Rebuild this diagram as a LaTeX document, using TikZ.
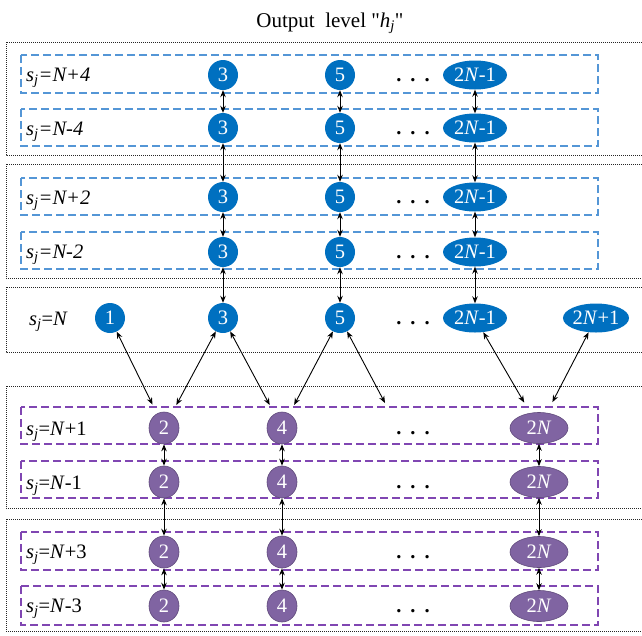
\documentclass[tikz,border=0pt]{standalone}
\usepackage{fontspec}
\setmainfont{Liberation Serif}
\usetikzlibrary{arrows.meta,shapes.geometric}
\definecolor{nblue}{RGB}{0,112,192}
\definecolor{dblue}{RGB}{84,150,214}
\definecolor{npurple}{RGB}{128,100,162}
\definecolor{lpurple}{RGB}{96,74,123}
\definecolor{dpurple}{RGB}{128,70,178}
\newcommand{\fsz}{\fontsize{20.5}{24}\selectfont}
\newcommand{\lsz}{\fontsize{20.5}{24}\selectfont}
\newcommand{\tsz}{\fontsize{21}{24}\selectfont}
\newcommand{\sj}{\textit{s}\textsubscript{\textit{j}}}
\begin{document}
\begin{tikzpicture}[x=1pt,y=-1pt,
  outerbox/.style={draw=black!85, dash pattern=on 1pt off 1pt, line width=0.7pt},
  bluebox/.style={draw=dblue, dash pattern=on 8pt off 4pt, line width=1.2pt},
  purplebox/.style={draw=dpurple, dash pattern=on 8pt off 4pt, line width=1.2pt},
  bsmall/.style={ellipse, fill=nblue, text=white, inner sep=0pt, minimum width=30pt, minimum height=30pt, font=\fsz},
  bbig/.style={ellipse, fill=nblue, text=white, inner sep=0pt, minimum width=64pt, minimum height=29pt, font=\fsz},
  psmall/.style={ellipse, fill=npurple, draw=lpurple, line width=0.6pt, text=white, inner sep=0pt, minimum width=30pt, minimum height=32pt, font=\fsz},
  pbig/.style={ellipse, fill=npurple, draw=lpurple, line width=0.6pt, text=white, inner sep=0pt, minimum width=58pt, minimum height=31pt, font=\fsz},
  lab/.style={anchor=base west, inner sep=0pt, font=\lsz},
  dotsnode/.style={inner sep=0pt, font=\fsz\bfseries},
  arr/.style={{Stealth[length=7pt,width=5.5pt]}-{Stealth[length=7pt,width=5.5pt]}, line width=0.9pt},
  darr/.style={arr, shorten >=10pt}
]
\useasboundingbox (0,0) rectangle (642,635);
% title
\node[inner sep=0pt, anchor=base, font=\tsz] (title) at (330,27) {Output\ \ level \textquotedbl\textit{h}\textsubscript{\textit{j}}\textquotedbl};
% outer dotted boxes
\draw[outerbox] (650,42) -- (6,42) -- (6,155) -- (650,155);
\draw[outerbox] (650,164) -- (6,164) -- (6,278) -- (650,278);
\draw[outerbox] (650,287) -- (6,287) -- (6,352) -- (650,352);
\draw[outerbox] (650,386) -- (6,386) -- (6,508) -- (650,508);
\draw[outerbox] (650,519) -- (6,519) -- (6,631) -- (650,631);
% dashed row boxes
\draw[bluebox] (21,55) rectangle (598,93);
\draw[bluebox] (21,109) rectangle (598,146);
\draw[bluebox] (21,178) rectangle (598,215);
\draw[bluebox] (21,232) rectangle (598,269);
\draw[purplebox] (21,407) rectangle (598,444);
\draw[purplebox] (21,461) rectangle (598,498);
\draw[purplebox] (21,532) rectangle (598,570);
\draw[purplebox] (21,586) rectangle (598,625);
% labels
\node[lab] (l1) at (26,81) {\itshape\sj=N+4};
\node[lab] (l2) at (26,135) {\itshape\sj=N-4};
\node[lab] (l3) at (26,204) {\itshape\sj=N+2};
\node[lab] (l4) at (26,258) {\itshape\sj=N-2};
\node[lab] (l5) at (29,325) {\sj=\textit{N}};
\node[lab] (l6) at (26,435) {\sj=\textit{N}+1};
\node[lab] (l7) at (26,489) {\sj=\textit{N}-1};
\node[lab] (l8) at (26,558) {\sj=\textit{N}+3};
\node[lab] (l9) at (26,612) {\sj=\textit{N}-3};
% blue rows
\foreach \r/\y in {1/75,2/128,3/197,4/252,5/318}{
  \node[bsmall] (r\r a) at (223,\y) {3};
  \node[bsmall] (r\r b) at (340,\y) {5};
  \node[dotsnode] (r\r d) at (413,\y+5) {.\kern9pt.\kern9pt.};
  \node[bbig] (r\r c) at (475,\y) {2\textit{N}-1};
}
\node[bsmall] (r5z) at (110,318) {1};
\node[bbig] (r5e) at (596,318) {2\textit{N}+1};
% purple rows
\foreach \r/\y in {1/428,2/482,3/552,4/606}{
  \node[psmall] (q\r a) at (164,\y) {2};
  \node[psmall] (q\r b) at (282,\y) {4};
  \node[dotsnode] (q\r d) at (413,\y+5) {.\kern9pt.\kern9pt.};
  \node[pbig] (q\r c) at (539,\y) {2\textit{N}};
}
% vertical arrows blue
\foreach \a/\b in {1/2,2/3,3/4,4/5}{
  \draw[arr] (r\a a) -- (r\b a);
  \draw[arr] (r\a b) -- (r\b b);
  \draw[arr] (r\a c) -- (r\b c);
}
% vertical arrows purple
\foreach \a/\b in {1/2,2/3,3/4}{
  \draw[arr] (q\a a) -- (q\b a);
  \draw[arr] (q\a b) -- (q\b b);
  \draw[arr] (q\a c) -- (q\b c);
}
% diagonal arrows
\coordinate (dend) at (385,403);
\draw[darr] (r5z) -- (q1a);
\draw[darr] (r5a) -- (q1a);
\draw[darr] (r5a) -- (q1b);
\draw[darr] (r5b) -- (q1b);
\draw[arr] (r5b) -- (dend);
\draw[darr, shorten >=12pt] (r5c) -- (q1c);
\draw[darr, shorten >=12pt] (r5e) -- (q1c);
\end{tikzpicture}
\end{document}
